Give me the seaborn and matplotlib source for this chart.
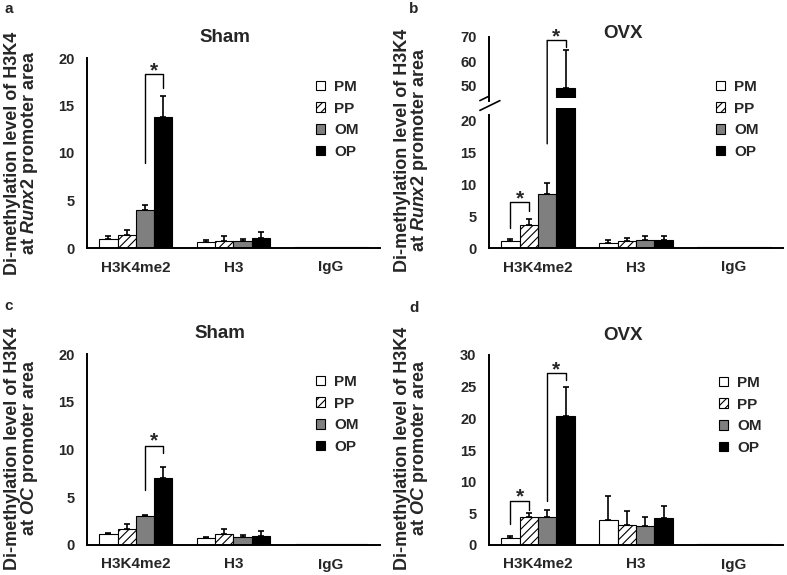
import numpy as np
import pandas as pd
import matplotlib
matplotlib.use("Agg")
import matplotlib.pyplot as plt
import matplotlib.patches as mpatches
from matplotlib.patches import ConnectionPatch
import seaborn as sns

sns.set_style("white")
plt.rcParams['font.family'] = ['Liberation Sans', 'DejaVu Sans']
plt.rcParams['font.weight'] = 'bold'
plt.rcParams['mathtext.fontset'] = 'custom'
plt.rcParams['mathtext.it'] = 'Liberation Sans:italic:bold'
plt.rcParams['mathtext.rm'] = 'Liberation Sans:bold'
plt.rcParams['hatch.linewidth'] = 0.8

targets = ["H3K4me2", "H3", "IgG"]
groups = ["PM", "PP", "OM", "OP"]
colors = ["white", "white", "#7f7f7f", "black"]
hatches = ["", "////", "", ""]

# rows = groups (PM, PP, OM, OP), cols = targets
runx2_sham_mean = [[1.0, 0.65, 0.08], [1.35, 0.75, 0.08], [3.95, 0.7, 0.08], [13.8, 1.1, 0.08]]
runx2_sham_err = [[0.25, 0.2, 0], [0.5, 0.55, 0], [0.6, 0.25, 0], [2.2, 0.55, 0]]

runx2_ovx_mean = [[1.15, 0.8, 0.08], [3.7, 1.05, 0.08], [8.5, 1.3, 0.08], [49.0, 1.3, 0.08]]
runx2_ovx_err = [[0.3, 0.5, 0], [0.8, 0.55, 0], [1.7, 0.65, 0], [15.4, 0.55, 0]]

oc_sham_mean = [[1.1, 0.75, 0.08], [1.7, 1.1, 0.08], [3.0, 0.85, 0.08], [7.0, 0.95, 0.08]]
oc_sham_err = [[0.2, 0.1, 0], [0.45, 0.6, 0], [0.15, 0.2, 0], [1.2, 0.55, 0]]

oc_ovx_mean = [[1.1, 3.9, 0.08], [4.4, 3.2, 0.08], [4.5, 3.0, 0.08], [20.4, 4.2, 0.08]]
oc_ovx_err = [[0.3, 3.9, 0], [0.6, 2.1, 0], [0.95, 1.4, 0], [4.5, 2.0, 0]]

# significance brackets: (left group, right group, left arm bottom, top, right arm bottom, star y)
runx2_sham_sig = [(2, 3, 8.9, 18.3, 16.8, 18.6)]
runx2_ovx_sig = [(0, 1, 3.2, 7.2, 5.9, 7.8)]
runx2_ovx_sig_big = (2, 3, 16.4, 68.5, 66.0, 70.0)
oc_sham_sig = [(2, 3, 5.8, 10.4, 9.6, 10.9)]
oc_ovx_sig = [(0, 1, 3.35, 7.0, 5.55, 7.6), (2, 3, 7.0, 27.1, 26.1, 27.7)]

W, H = 787, 575
fig = plt.figure(figsize=(W / 100, H / 100), dpi=100)


def px_axes(left, right, bottom, top):
    return fig.add_axes([left / W, 1 - bottom / H, (right - left) / W, (bottom - top) / H])


def draw_bars(ax, means, errs):
    df = pd.DataFrame({
        "target": targets * len(groups),
        "group": [g for g in groups for _ in targets],
        "value": np.ravel(means),
    })
    sns.barplot(data=df, x="target", y="value", hue="group", order=targets,
                hue_order=groups, palette=colors, saturation=1, errorbar=None,
                width=0.75, edgecolor="black", linewidth=0.8, legend=False, ax=ax)
    for cont, err, hatch in zip(ax.containers, errs, hatches):
        xs, hs, es = [], [], []
        for p, e in zip(cont.patches, err):
            p.set_hatch(hatch)
            if e > 0:
                xs.append(p.get_x() + p.get_width() / 2)
                hs.append(p.get_height())
                es.append(e)
        ax.errorbar(xs, hs, yerr=[np.zeros(len(es)), es], fmt="none",
                    ecolor="black", elinewidth=1.2, capsize=2.5, capthick=1.2)


def style(ax, ylim, yticks):
    ax.set_xlim(-0.5, 2.5)
    ax.set_ylim(ylim)
    ax.set_yticks(yticks)
    ax.set_xlabel("")
    ax.set_ylabel("")
    for s in ["top", "right"]:
        ax.spines[s].set_visible(False)
    for s in ["left", "bottom"]:
        ax.spines[s].set_linewidth(1.4)
        ax.spines[s].set_color("black")
    ax.set_xticks([-0.5, 0.5, 1.5, 2.5], minor=True)
    ax.tick_params(axis="x", which="major", length=0, pad=9, labelsize=11)
    ax.tick_params(axis="x", which="minor", length=4, width=1.4, color="black")
    ax.tick_params(axis="y", length=4, width=1.4, color="black", labelsize=10.5, pad=5)


def bar_x(ax, gi):
    p = ax.containers[gi].patches[0]
    return p.get_x() + p.get_width() / 2


def brackets(ax, sigs):
    for gl, gr, yl, yt, yr, ys in sigs:
        xl, xr = bar_x(ax, gl), bar_x(ax, gr)
        ax.plot([xl, xl, xr, xr], [yl, yt, yt, yr], color="black", lw=1.0, clip_on=False)
        ax.text((xl + xr) / 2, ys, "*", ha="center", va="center", fontsize=15,
                fontweight="bold", clip_on=False)


def legend(x, y):
    handles = [mpatches.Patch(facecolor=c, edgecolor="black", hatch=h, linewidth=0.8)
               for c, h in zip(colors, hatches)]
    fig.legend(handles, groups, loc="upper left", bbox_to_anchor=(x / W, 1 - y / H),
               frameon=False, handlelength=0.6, handleheight=0.6, handletextpad=0.6,
               labelspacing=0.5, borderpad=0, borderaxespad=0,
               prop={"size": 11, "weight": "bold"})


def label(x, y, gene):
    fig.text(x / W, 1 - y / H,
             "Di-methylation level of H3K4\nat $\\mathit{" + gene + "}$ promoter area",
             rotation=90, ha="center", va="center", fontsize=13, fontweight="bold",
             multialignment="center", linespacing=0.9)


# a) Runx2 Sham
ax_a = px_axes(87, 380, 248, 58)
draw_bars(ax_a, runx2_sham_mean, runx2_sham_err)
style(ax_a, (0, 20), [0, 5, 10, 15, 20])
brackets(ax_a, runx2_sham_sig)

# b) Runx2 OVX, broken axis
ax_b = px_axes(489, 783, 248, 108.3)
draw_bars(ax_b, runx2_ovx_mean, runx2_ovx_err)
style(ax_b, (0, 22), [0, 5, 10, 15, 20])
brackets(ax_b, runx2_ovx_sig)
ax_b.spines["left"].set_bounds(0, 21)

ax_bh = px_axes(489, 783, 98.3, 36.7)
draw_bars(ax_bh, runx2_ovx_mean, runx2_ovx_err)
style(ax_bh, (45, 70), [50, 60, 70])
ax_bh.spines["bottom"].set_visible(False)
ax_bh.spines["left"].set_bounds(44, 70)
ax_bh.tick_params(axis="x", which="both", bottom=False, labelbottom=False)

gl, gr, yl, yt, yr, ys = runx2_ovx_sig_big
xl, xr = bar_x(ax_b, gl), bar_x(ax_b, gr)
fig.add_artist(ConnectionPatch((xl, yl), (xl, yt), ax_b.transData, ax_bh.transData,
                               color="black", lw=1.0))
ax_bh.plot([xl, xr, xr], [yt, yt, yr], color="black", lw=1.0, clip_on=False)
ax_bh.text((xl + xr) / 2, ys, "*", ha="center", va="center", fontsize=15,
           fontweight="bold", clip_on=False)

# break marks on the y axis
for y0 in [0.985, 1.055]:
    ax_b.plot([-0.031, 0.037], [y0, y0 + 0.07], transform=ax_b.transAxes,
              color="black", lw=1.2, clip_on=False)

# c) OC Sham
ax_c = px_axes(87, 380, 545, 354)
draw_bars(ax_c, oc_sham_mean, oc_sham_err)
style(ax_c, (0, 20), [0, 5, 10, 15, 20])
brackets(ax_c, oc_sham_sig)

# d) OC OVX
ax_d = px_axes(489, 783, 545, 355)
draw_bars(ax_d, oc_ovx_mean, oc_ovx_err)
style(ax_d, (0, 30), [0, 5, 10, 15, 20, 25, 30])
brackets(ax_d, oc_ovx_sig)

# legends
legend(316, 80)
legend(716, 80)
legend(316, 375)
legend(719, 376)

# titles
fig.text(225 / W, 1 - 38 / H, "Sham", ha="center", va="center", fontsize=13.5, fontweight="bold")
fig.text(623 / W, 1 - 33 / H, "OVX", ha="center", va="center", fontsize=13.5, fontweight="bold")
fig.text(220 / W, 1 - 333 / H, "Sham", ha="center", va="center", fontsize=13.5, fontweight="bold")
fig.text(623 / W, 1 - 335 / H, "OVX", ha="center", va="center", fontsize=13.5, fontweight="bold")

# y labels
label(22, 153, "Runx2")
label(412, 150, "Runx2")
label(22, 448, "OC")
label(412, 448, "OC")

# panel letters
for x, y, t in [(9, 9, "a"), (414, 9, "b"), (9, 306, "c"), (414, 308, "d")]:
    fig.text(x / W, 1 - y / H, t, ha="center", va="center", fontsize=11, fontweight="bold")

fig.savefig("out.png", dpi=100)
